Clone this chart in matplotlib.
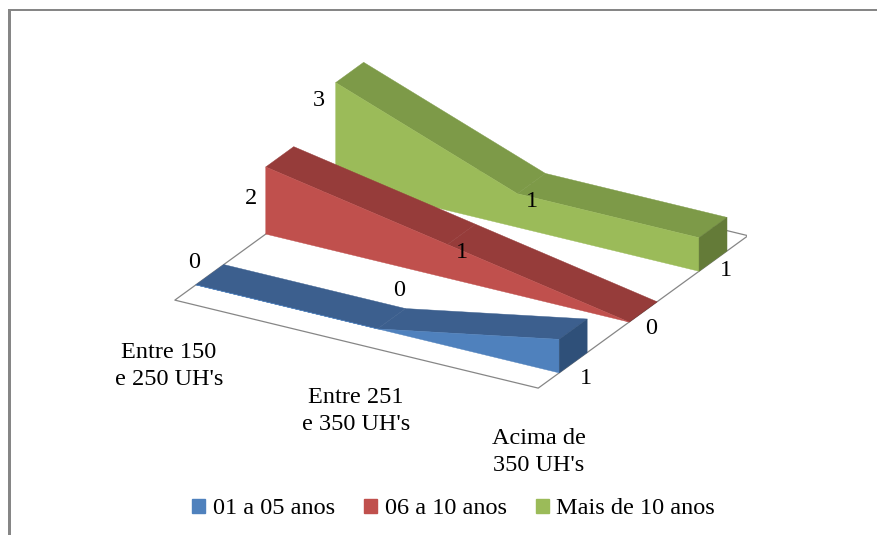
import matplotlib
matplotlib.use('Agg')
import matplotlib.pyplot as plt
from matplotlib.patches import Patch, Rectangle
from mpl_toolkits.mplot3d.art3d import Poly3DCollection

plt.rcParams['font.family'] = ['Liberation Serif', 'DejaVu Serif']

# Data
categories = ["Entre 150\ne 250 UH's", "Entre 251\ne 350 UH's", "Acima de\n350 UH's"]
series_names = ['01 a 05 anos', '06 a 10 anos', 'Mais de 10 anos']
anos_01_05 = [0, 0, 1]
anos_06_10 = [2, 1, 0]
anos_mais_10 = [3, 1, 1]
all_values = [anos_01_05, anos_06_10, anos_mais_10]

# front face, top face, end face
front_colors = ['#4F81BD', '#C0504D', '#9BBB59']
top_colors = ['#3C5F8E', '#963C3A', '#7D9A48']
side_colors = ['#2F5079', '#7A2F2D', '#647B38']

W, H = 877, 535
fig = plt.figure(figsize=(W / 100, H / 100), dpi=100, facecolor='white')


def px(x, y):
    return x / W, 1 - y / H


# 3d axes placed so the floor lands where it should
size = 586
left, bottom = 160, 17
ax = fig.add_axes([left / W, bottom / H, size / W, size / H], projection='3d',
                  proj_type='ortho', computed_zorder=False)
ax.patch.set_alpha(0)
ax.set_box_aspect((420, 420, 111))
ax.view_init(elev=24.8, azim=-60)
ax.set_xlim(0, 2)
ax.set_ylim(0, 3)
ax.set_zlim(0, 3)
ax.set_axis_off()

# floor
floor = Poly3DCollection([[(0, 0, 0), (2, 0, 0), (2, 3, 0), (0, 3, 0)]],
                         facecolor='white', edgecolor='#868686', linewidth=0.9, zorder=1)
ax.add_collection3d(floor)

# ribbons, back series first
for i in [2, 1, 0]:
    vals = all_values[i]
    y0, y1 = i + 0.3, i + 0.7
    xs = range(len(vals))
    order = 10 + (2 - i) * 10
    for k in range(len(vals) - 1):
        top = [(k, y0, vals[k]), (k + 1, y0, vals[k + 1]), (k + 1, y1, vals[k + 1]), (k, y1, vals[k])]
        ax.add_collection3d(Poly3DCollection([top], facecolor=top_colors[i], edgecolor=top_colors[i],
                                             linewidth=0.3, zorder=order))
    front = [(x, y0, 0) for x in xs][::-1] + [(x, y0, v) for x, v in zip(xs, vals)]
    ax.add_collection3d(Poly3DCollection([front], facecolor=front_colors[i], edgecolor=front_colors[i],
                                         linewidth=0.3, zorder=order + 1))
    end = [(2, y0, 0), (2, y1, 0), (2, y1, vals[2]), (2, y0, vals[2])]
    ax.add_collection3d(Poly3DCollection([end], facecolor=side_colors[i], edgecolor=side_colors[i],
                                         linewidth=0.3, zorder=order + 2))

# data labels
label_pos = [[(194, 262), (399, 291), (586, 379)],
             [(251, 199), (462, 253), (651, 329)],
             [(319, 101), (532, 201), (726, 271)]]
for vals, positions in zip(all_values, label_pos):
    for v, (x, y) in zip(vals, positions):
        fig.text(*px(x, y), str(v), fontsize=17.5, ha='center', va='center', color='black')

# category labels
cat_pos = [(169, 366), (356, 411), (539, 452)]
for name, (x, y) in zip(categories, cat_pos):
    fig.text(*px(x, y), name, fontsize=17.5, ha='center', va='center', linespacing=1.35, color='black')

# legend
handles = [Patch(color=c) for c in front_colors]
fig.legend(handles, series_names, ncol=3, loc='center', bbox_to_anchor=px(453.5, 509), frameon=False,
           fontsize=17.5, handlelength=0.55, handleheight=0.5, handletextpad=0.3, columnspacing=1.2,
           borderpad=0)

# frame of the picture: only left and top are visible
fig.add_artist(Rectangle(px(8, 535), 3 / W, 526 / H, transform=fig.transFigure,
                         facecolor='#868686', edgecolor='none'))
fig.add_artist(Rectangle(px(8, 10.5), 869 / W, 1.5 / H, transform=fig.transFigure,
                         facecolor='#868686', edgecolor='none'))

fig.savefig('out.png', dpi=100)
